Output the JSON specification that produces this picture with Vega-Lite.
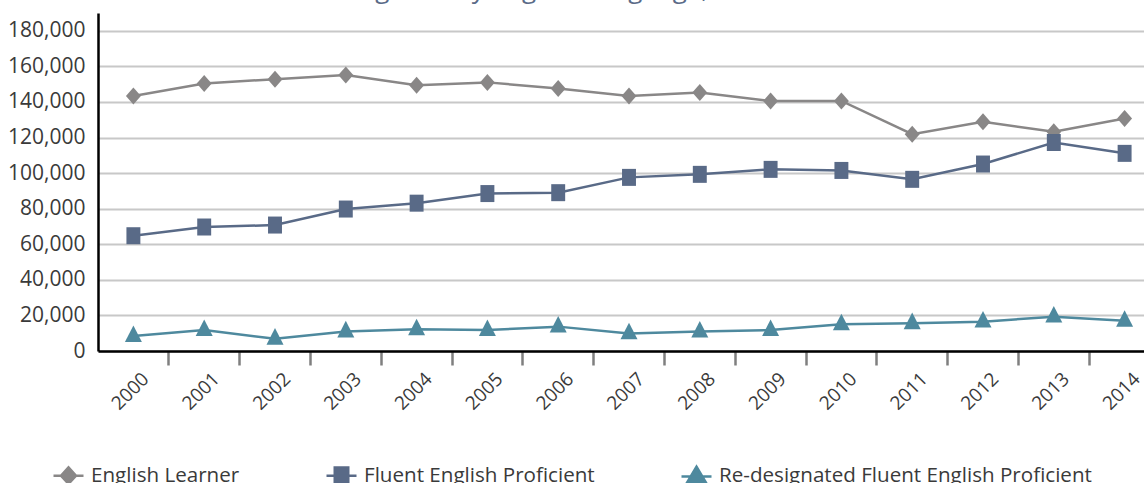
{
  "$schema": "https://vega.github.io/schema/vega-lite/v6.json",
  "width": 1046,
  "height": 338,
  "autosize": {"type": "none"},
  "padding": {"left": 98, "top": 13, "right": 0, "bottom": 132},
  "background": "white",
  "title": {
    "text": "Categories by English Language, 2000–2014",
    "font": "Open Sans",
    "fontSize": 26,
    "fontWeight": "normal",
    "color": "#5b6b88",
    "baseline": "alphabetic",
    "offset": -11,
    "frame": "bounds",
    "anchor": "middle"
  },
  "config": {
    "view": {"stroke": null},
    "font": "Open Sans"
  },
  "data": {
    "values": [
      {"year": 2000, "series": "English Learner", "value": 143400},
      {"year": 2001, "series": "English Learner", "value": 150400},
      {"year": 2002, "series": "English Learner", "value": 152800},
      {"year": 2003, "series": "English Learner", "value": 155100},
      {"year": 2004, "series": "English Learner", "value": 149400},
      {"year": 2005, "series": "English Learner", "value": 151000},
      {"year": 2006, "series": "English Learner", "value": 147600},
      {"year": 2007, "series": "English Learner", "value": 143400},
      {"year": 2008, "series": "English Learner", "value": 145300},
      {"year": 2009, "series": "English Learner", "value": 140500},
      {"year": 2010, "series": "English Learner", "value": 140600},
      {"year": 2011, "series": "English Learner", "value": 121900},
      {"year": 2012, "series": "English Learner", "value": 128800},
      {"year": 2013, "series": "English Learner", "value": 123200},
      {"year": 2014, "series": "English Learner", "value": 130700},
      {"year": 2000, "series": "Fluent English Proficient", "value": 64800},
      {"year": 2001, "series": "Fluent English Proficient", "value": 69700},
      {"year": 2002, "series": "Fluent English Proficient", "value": 70800},
      {"year": 2003, "series": "Fluent English Proficient", "value": 79800},
      {"year": 2004, "series": "Fluent English Proficient", "value": 83100},
      {"year": 2005, "series": "Fluent English Proficient", "value": 88500},
      {"year": 2006, "series": "Fluent English Proficient", "value": 89000},
      {"year": 2007, "series": "Fluent English Proficient", "value": 97600},
      {"year": 2008, "series": "Fluent English Proficient", "value": 99300},
      {"year": 2009, "series": "Fluent English Proficient", "value": 102100},
      {"year": 2010, "series": "Fluent English Proficient", "value": 101500},
      {"year": 2011, "series": "Fluent English Proficient", "value": 96500},
      {"year": 2012, "series": "Fluent English Proficient", "value": 105100},
      {"year": 2013, "series": "Fluent English Proficient", "value": 117200},
      {"year": 2014, "series": "Fluent English Proficient", "value": 111100},
      {"year": 2000, "series": "Re-designated Fluent English Proficient", "value": 8400},
      {"year": 2001, "series": "Re-designated Fluent English Proficient", "value": 11800},
      {"year": 2002, "series": "Re-designated Fluent English Proficient", "value": 6900},
      {"year": 2003, "series": "Re-designated Fluent English Proficient", "value": 11000},
      {"year": 2004, "series": "Re-designated Fluent English Proficient", "value": 12200},
      {"year": 2005, "series": "Re-designated Fluent English Proficient", "value": 11800},
      {"year": 2006, "series": "Re-designated Fluent English Proficient", "value": 13700},
      {"year": 2007, "series": "Re-designated Fluent English Proficient", "value": 9900},
      {"year": 2008, "series": "Re-designated Fluent English Proficient", "value": 10900},
      {"year": 2009, "series": "Re-designated Fluent English Proficient", "value": 11800},
      {"year": 2010, "series": "Re-designated Fluent English Proficient", "value": 15000},
      {"year": 2011, "series": "Re-designated Fluent English Proficient", "value": 15600},
      {"year": 2012, "series": "Re-designated Fluent English Proficient", "value": 16500},
      {"year": 2013, "series": "Re-designated Fluent English Proficient", "value": 19300},
      {"year": 2014, "series": "Re-designated Fluent English Proficient", "value": 17000}
    ]
  },
  "encoding": {
    "x": {
      "field": "year",
      "type": "ordinal",
      "scale": {"type": "band", "range": [0, 1062], "paddingInner": 0, "paddingOuter": 0},
      "axis": {
        "title": null,
        "labelAngle": -45,
        "labelAlign": "center",
        "labelBaseline": "middle",
        "labelPadding": 26,
        "labelOffset": -3,
        "bandPosition": 0,
        "tickSize": 14,
        "tickWidth": 2.5,
        "tickColor": {"condition": {"test": "datum.value == 2000", "value": "transparent"}, "value": "#7f7f7f"},
        "domainColor": "#000000",
        "domainWidth": 2.5,
        "labelFont": "Open Sans",
        "labelFontSize": 19,
        "labelColor": "#3a3a3a",
        "labelOverlap": false,
        "labelBound": false,
        "grid": false
      }
    },
    "y": {
      "field": "value",
      "type": "quantitative",
      "scale": {"domain": [0, 190000], "nice": false},
      "axis": {
        "title": null,
        "values": [0, 20000, 40000, 60000, 80000, 100000, 120000, 140000, 160000, 180000],
        "labelExpr": "format(datum.value, ',')",
        "ticks": false,
        "labelPadding": 13,
        "labelFont": "Open Sans",
        "labelFontSize": 21,
        "labelColor": "#3a3a3a",
        "domainColor": "#000000",
        "domainWidth": 2.5,
        "grid": true,
        "gridColor": "#c8c8c8",
        "gridWidth": 2
      }
    }
  },
  "layer": [
    {
      "mark": {"type": "line", "strokeWidth": 2.5},
      "encoding": {
        "color": {
          "field": "series",
          "type": "nominal",
          "scale": {
            "domain": ["English Learner", "Fluent English Proficient", "Re-designated Fluent English Proficient"],
            "range": ["#898787", "#596a87", "#4e899e"]
          },
          "legend": null
        }
      }
    },
    {
      "mark": {"type": "point", "filled": true, "opacity": 1, "size": 289},
      "encoding": {
        "color": {"field": "series", "type": "nominal", "legend": null},
        "shape": {
          "field": "series",
          "type": "nominal",
          "scale": {
            "domain": ["English Learner", "Fluent English Proficient", "Re-designated Fluent English Proficient"],
            "range": ["M0,-1L0.88,0L0,1L-0.88,0Z", "M-0.82,-1L0.82,-1L0.82,1L-0.82,1Z", "M0,-1.25L1,0.7L-1,0.7Z"]
          },
          "legend": null
        }
      }
    },
    {
      "mark": {"type": "point", "filled": true, "opacity": 0, "size": 900},
      "encoding": {
        "color": {
          "field": "series",
          "type": "nominal",
          "legend": {
            "orient": "none",
            "legendX": -46,
            "legendY": 446,
            "direction": "horizontal",
            "title": null,
            "labelFont": "Open Sans",
            "labelFontSize": 20.6,
            "labelColor": "#3a3a3a",
            "labelOffset": 6,
            "labelLimit": 0,
            "symbolSize": 900,
            "symbolOpacity": 1,
            "symbolStrokeWidth": 2.5,
            "columnPadding": 81,
            "encode": {
              "symbols": {
                "update": {
                  "stroke": {"scale": "color", "field": "value"},
                  "strokeWidth": {"value": 2.5},
                  "opacity": {"value": 1}
                }
              }
            }
          }
        },
        "shape": {
          "field": "series",
          "type": "nominal",
          "scale": {
            "domain": ["English Learner", "Fluent English Proficient", "Re-designated Fluent English Proficient"],
            "range": ["M-1,0L1,0M0,-0.55L0.5,0L0,0.55L-0.5,0Z", "M-1,0L1,0M-0.45,-0.55L0.45,-0.55L0.45,0.55L-0.45,0.55Z", "M-1,0L1,0M0,-0.65L0.65,0.45L-0.65,0.45Z"]
          },
          "legend": {
            "orient": "none",
            "legendX": -46,
            "legendY": 446,
            "direction": "horizontal",
            "title": null,
            "labelFont": "Open Sans",
            "labelFontSize": 20.6,
            "labelColor": "#3a3a3a",
            "labelOffset": 6,
            "labelLimit": 0,
            "symbolSize": 900,
            "symbolOpacity": 1,
            "symbolStrokeWidth": 2.5,
            "columnPadding": 81,
            "encode": {
              "symbols": {
                "update": {
                  "stroke": {"scale": "color", "field": "value"},
                  "strokeWidth": {"value": 2.5},
                  "opacity": {"value": 1}
                }
              }
            }
          }
        }
      }
    }
  ],
  "resolve": {
    "scale": {"shape": "independent"},
    "legend": {"color": "independent", "shape": "independent"}
  }
}
